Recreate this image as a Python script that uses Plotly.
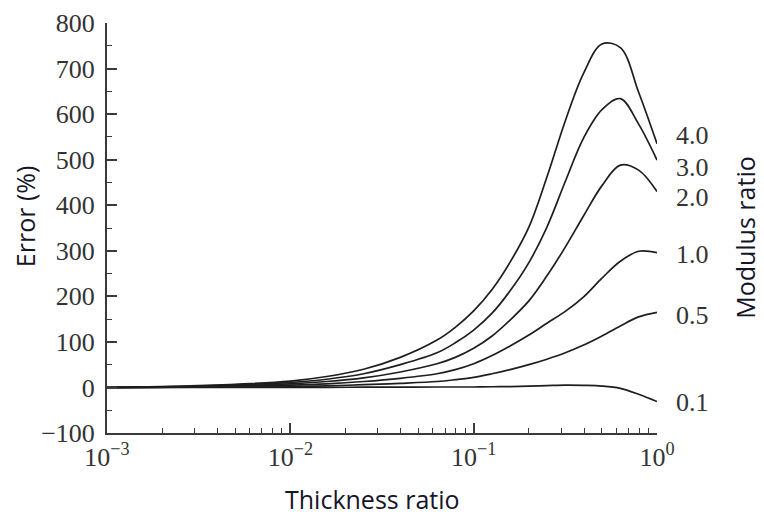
import plotly.graph_objects as go

# Thickness ratio (x, log scale)
thickness = [0.001, 0.00316, 0.01, 0.0158, 0.0251, 0.0398, 0.0631, 0.0794, 0.1, 0.126,
             0.158, 0.2, 0.251, 0.316, 0.398, 0.501, 0.631, 0.794, 1.0]

# Error (%) for each modulus ratio
err_4_0 = [0, 4, 14, 24, 40, 66, 104, 132, 168, 215, 275, 352, 462, 585, 690, 754, 746, 648, 535]
err_3_0 = [0, 3, 11, 18, 30, 50, 76, 98, 126, 163, 212, 274, 352, 452, 548, 610, 634, 578, 499]
err_2_0 = [0, 2, 8, 13, 21, 34, 52, 66, 86, 113, 148, 190, 245, 308, 377, 443, 488, 477, 430]
err_1_0 = [0, 1, 5, 8, 13, 20, 30, 39, 52, 70, 91, 115, 141, 167, 199, 240, 277, 299, 296]
err_0_5 = [0, 0.5, 2, 3.5, 6, 9, 13, 17, 22, 30, 39, 50, 62, 76, 93, 113, 135, 155, 165]
err_0_1 = [0, 0, 0, 0.3, 0.5, 0.7, 1, 1, 1, 1.5, 2, 3, 4, 5, 4.5, 3, -2, -15, -31]

series = [("4.0", err_4_0), ("3.0", err_3_0), ("2.0", err_2_0),
          ("1.0", err_1_0), ("0.5", err_0_5), ("0.1", err_0_1)]

# label positions (y value where the curve label sits)
label_names = ["4.0", "3.0", "2.0", "1.0", "0.5", "0.1"]
label_y = [554, 482, 416, 291, 159, -34]

x_tickvals = [0.001, 0.01, 0.1, 1]
x_ticktext = ["10<sup>\u22123</sup>", "10<sup>\u22122</sup>", "10<sup>\u22121</sup>", "10<sup>0</sup>"]
x_minor = [m * d for d in (0.001, 0.01, 0.1) for m in range(2, 10)]
y_tickvals = [-100, 0, 100, 200, 300, 400, 500, 600, 700, 800]

fig = go.Figure()
for name, vals in series:
    fig.add_trace(go.Scatter(x=thickness, y=vals, mode="lines", name=name,
                             line=dict(color="#1e1e1e", width=1.7, shape="spline", smoothing=1.0),
                             showlegend=False))

serif = "Liberation Serif"
sans = "Open Sans"
tick_color = "#3a3a3a"

fig.update_layout(
    width=764, height=517,
    margin=dict(l=107, r=107, t=23, b=84, autoexpand=False),
    paper_bgcolor="white", plot_bgcolor="white",
    xaxis=dict(type="log", range=[-3, 0], showgrid=False, zeroline=False, automargin=False,
               showline=True, linecolor=tick_color, linewidth=2,
               ticks="inside", ticklen=10, tickwidth=1.6, tickcolor=tick_color,
               tickmode="array", tickvals=x_tickvals, ticktext=x_ticktext,
               tickfont=dict(family=serif, size=26, color="#333"),
               minor=dict(tickmode="array", tickvals=x_minor, ticks="inside",
                          ticklen=5, tickwidth=1.4, tickcolor=tick_color),
               ticklabelstandoff=0),
    yaxis=dict(range=[-100, 800], showgrid=False, zeroline=False, automargin=False,
               showline=True, linecolor=tick_color, linewidth=2,
               ticks="inside", ticklen=10, tickwidth=1.6, tickcolor=tick_color,
               tickmode="array", tickvals=y_tickvals,
               tickfont=dict(family=serif, size=26, color="#333"),
               minor=dict(dtick=50, ticks="inside", ticklen=5, tickwidth=1.4,
                          tickcolor=tick_color),
               ticklabelstandoff=5),
)

for name, yv in zip(label_names, label_y):
    fig.add_annotation(x=1.064, xref="paper", y=yv, yref="y", text=name,
                       showarrow=False, xanchor="center", yanchor="middle",
                       font=dict(family=serif, size=26, color="#333"))

fig.add_annotation(x=0.482, xref="paper", y=-0.16, yref="paper", text="Thickness ratio",
                   showarrow=False, xanchor="center", yanchor="middle", borderpad=0,
                   font=dict(family=sans, size=25, color="#15152a"))
fig.add_annotation(x=-0.149, xref="paper", y=0.529, yref="paper", text="Error (%)",
                   showarrow=False, xanchor="center", yanchor="middle", textangle=-90,
                   font=dict(family=sans, size=25, color="#15152a"))
fig.add_annotation(x=1.16, xref="paper", y=0.476, yref="paper", text="Modulus ratio",
                   showarrow=False, xanchor="center", yanchor="middle", textangle=-90,
                   borderpad=0, font=dict(family=sans, size=25, color="#15152a"))

fig.write_html("out.html", config={"displayModeBar": False},
               post_script="document.body.style.margin='0';document.body.style.overflow='hidden';")
